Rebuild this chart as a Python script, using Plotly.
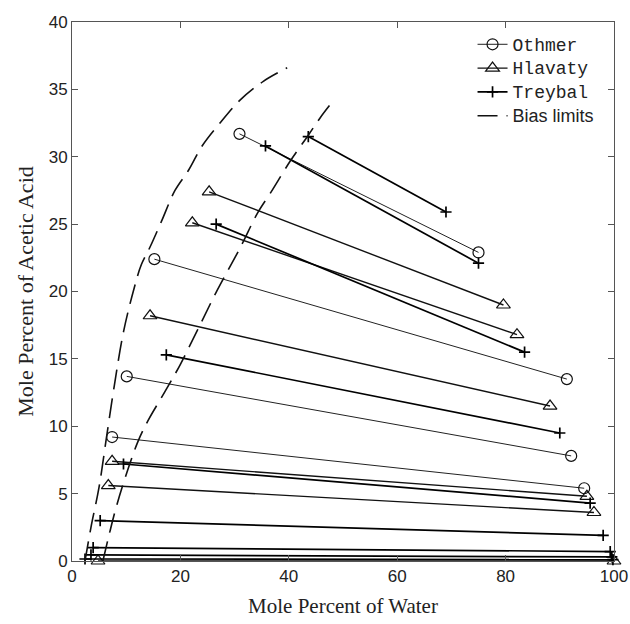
import plotly.graph_objects as go

# Tie lines: [start, end] pairs of mole percent water / acetic acid
othmer_water = [[30.9, 75.0], [15.2, 91.3], [10.1, 92.1], [7.4, 94.5]]
othmer_acid = [[31.7, 22.9], [22.4, 13.5], [13.7, 7.8], [9.2, 5.4]]

hlavaty_water = [[25.3, 79.6], [22.2, 82.1], [14.4, 88.2], [7.4, 95.0], [6.7, 96.3], [4.8, 100.0]]
hlavaty_acid = [[27.4, 19.0], [25.1, 16.8], [18.2, 11.5], [7.4, 4.8], [5.6, 3.6], [0.0, 0.0]]

treybal_water = [[43.6, 69.0], [35.7, 75.0], [26.6, 83.5], [17.4, 90.0], [9.5, 95.6],
                 [5.2, 98.0], [3.9, 99.3], [3.5, 99.6], [2.4, 99.8]]
treybal_acid = [[31.5, 25.9], [30.8, 22.1], [25.0, 15.5], [15.3, 9.5], [7.2, 4.3],
                [3.0, 1.9], [1.0, 0.7], [0.45, 0.3], [0.15, 0.1]]

# Bias limit curves
outer_water = [2.4, 3.5, 5.0, 6.3, 7.8, 9.5, 11.5, 12.8, 14.4, 16.5, 19.0, 21.5, 24.0, 27.5, 31.0, 35.3, 39.7]
outer_acid = [0.0, 2.5, 5.5, 9.0, 13.0, 17.0, 20.3, 22.0, 23.3, 25.2, 27.5, 29.0, 30.8, 32.6, 34.2, 35.6, 36.6]
inner_water = [5.7, 7.0, 8.3, 10.4, 12.2, 14.0, 17.2, 20.0, 23.1, 26.8, 31.1, 34.2, 36.6, 40.3, 43.6, 45.8, 47.5]
inner_acid = [0.0, 2.2, 4.2, 6.9, 8.9, 10.4, 12.6, 14.6, 17.1, 20.1, 23.3, 25.8, 27.3, 29.7, 31.6, 32.9, 33.8]

x_ticks = [0, 20, 40, 60, 80, 100]
y_ticks = [0, 5, 10, 15, 20, 25, 30, 35, 40]


def segments(xs, ys):
    px, py = [], []
    for a, b in zip(xs, ys):
        px += a + [None]
        py += b + [None]
    return px, py


def legend_label(text, family=None):
    style = "font-size:18px"
    if family:
        style += ";font-family:" + family
    return "<span style='" + style + "'>" + text + "</span>"


fig = go.Figure()

ox, oy = segments(othmer_water, othmer_acid)
fig.add_trace(go.Scatter(
    x=ox, y=oy, mode="lines+markers", name=legend_label("Othmer"), cliponaxis=False,
    line=dict(color="#222", width=1),
    marker=dict(symbol="circle-open", size=11, color="#111", line=dict(width=1.2)),
))

hx, hy = segments(hlavaty_water, hlavaty_acid)
fig.add_trace(go.Scatter(
    x=hx, y=hy, mode="lines+markers", name=legend_label("Hlavaty"), cliponaxis=False,
    line=dict(color="#111", width=1.4),
    marker=dict(symbol="triangle-up-open", size=12, color="#111", line=dict(width=1.2)),
))

tx, ty = segments(treybal_water, treybal_acid)
fig.add_trace(go.Scatter(
    x=tx, y=ty, mode="lines+markers", name=legend_label("Treybal"), cliponaxis=False,
    line=dict(color="#000", width=1.7),
    marker=dict(symbol="cross-thin-open", size=8, color="#000", line=dict(width=1.7, color="#000")),
))

bias_dash = "20px,9px"
fig.add_trace(go.Scatter(
    x=outer_water, y=outer_acid, mode="lines", line_shape="spline",
    name=legend_label("Bias limits", "Liberation Sans"),
    line=dict(color="#111", width=1.6, dash=bias_dash),
))
fig.add_trace(go.Scatter(
    x=inner_water, y=inner_acid, mode="lines", line_shape="spline", showlegend=False,
    line=dict(color="#111", width=1.6, dash=bias_dash),
))

axis_common = dict(
    showgrid=False, zeroline=False, showline=True, linecolor="#555", linewidth=1,
    mirror="ticks", ticks="inside", ticklen=6, tickcolor="#555", automargin=False,
    tickfont=dict(family="Liberation Sans, Arial", size=17, color="#222"),
)

fig.update_xaxes(
    range=[0, 100], tickvals=x_ticks, **axis_common,
    title=dict(text="Mole Percent of Water", standoff=12,
               font=dict(family="Liberation Serif, Times New Roman", size=21, color="#222")),
)
fig.update_yaxes(
    range=[0, 40], tickvals=y_ticks, **axis_common,
    title=dict(text="Mole Percent of Acetic Acid", standoff=8,
               font=dict(family="Liberation Serif, Times New Roman", size=22, color="#222")),
)

fig.update_layout(
    width=630, height=624,
    margin=dict(l=72, r=16, t=22, b=63),
    plot_bgcolor="white", paper_bgcolor="white",
    legend=dict(
        x=0.739, y=0.99, xanchor="left", yanchor="top",
        bgcolor="rgba(255,255,255,0)", tracegroupgap=0,
        font=dict(family="Liberation Mono, Courier New", size=16, color="#222"),
    ),
)

fig.write_html("out.html")
